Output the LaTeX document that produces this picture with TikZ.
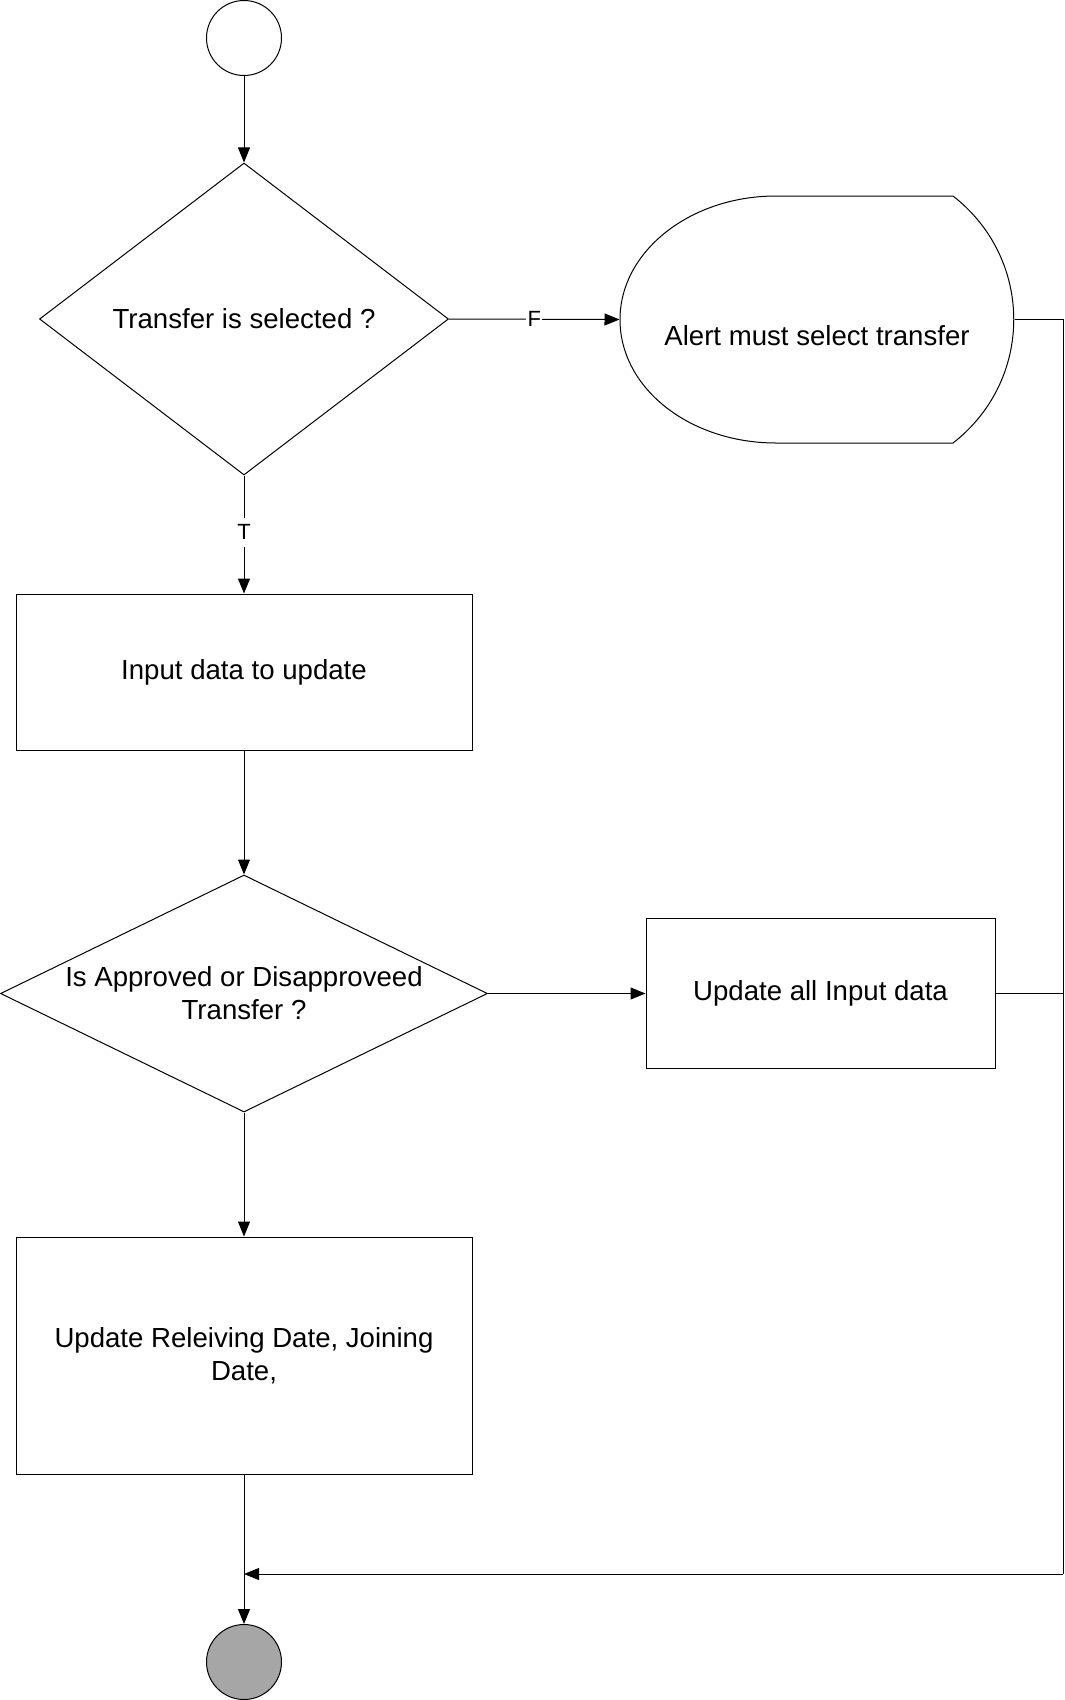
\documentclass[tikz,border=0pt]{standalone}
\usepackage{fontspec}
\setmainfont{Liberation Sans}
\usetikzlibrary{shapes.geometric,arrows.meta}
\definecolor{endgray}{HTML}{A6A6A6}
\begin{document}
\begin{tikzpicture}[x=1pt,y=-1pt, line width=1pt,
  every node/.style={font=\fontsize{27.6}{33}\selectfont},
  proc/.style={draw, rectangle, inner sep=0pt, align=center},
  decision/.style={draw, diamond, inner sep=0pt, align=center},
  term/.style={draw, circle, inner sep=0pt, minimum size=75pt},
  arr/.style={-{Triangle[length=15pt,width=12pt]}},
  lbl/.style={fill=white, inner xsep=1.5pt, inner ysep=7pt, font=\fontsize{22}{26}\selectfont}]
\useasboundingbox (0,0) rectangle (1065,1700);

\node[term] (start) at (244,38) {};
\node[decision, shape aspect=1.31, minimum width=409pt, minimum height=312pt] (d1) at (244,319) {Transfer is selected ?};
\node[inner sep=0pt, minimum width=394pt, minimum height=247pt] (alert) at (817,319.5) {\raisebox{-25.5pt}[0pt][0pt]{Alert must select transfer}};
\draw (776,196) -- (953,196) .. controls (1034,259) and (1034,380) .. (953,443) -- (776,443) .. controls (690,443) and (620,388.5) .. (620,319.5) .. controls (620,251.5) and (690,196) .. (776,196) -- cycle;
\node[proc, minimum width=456pt, minimum height=156pt] (b1) at (244,672) {Input data to update};
\node[decision, shape aspect=2.05, minimum width=487pt, minimum height=237pt] (d2) at (244,993.5) {Is Approved or Disapproveed\\Transfer ?};
\node[proc, minimum width=349pt, minimum height=150pt] (b2) at (820.5,993.5) {Update all Input data};
\node[proc, minimum width=456pt, minimum height=237pt] (b3) at (244,1355.5) {Update Releiving Date, Joining\\Date,};
\node[term, fill=endgray] (end) at (244,1662) {};

\coordinate (rtop) at (1063,319.5);
\coordinate (rmid) at (1063,993.5);
\coordinate (rbot) at (1063,1574);
\coordinate (merge) at (244,1574);

\draw[arr] (start) -- (d1);
\draw[arr] (d1.east) -- node[lbl, pos=0.5]{F} (alert.west);
\draw[arr] (d1) -- node[lbl, pos=0.48]{T} (b1);
\draw[arr] (b1) -- (d2);
\draw[arr] (d2.east) -- (b2.west);
\draw[arr] (d2) -- (b3);
\draw[arr] (b3) -- (end);
\draw (alert.east) -- (rtop) -- (rbot);
\draw (b2.east) -- (rmid);
\draw[arr] (rbot) -- (merge);
\end{tikzpicture}
\end{document}
